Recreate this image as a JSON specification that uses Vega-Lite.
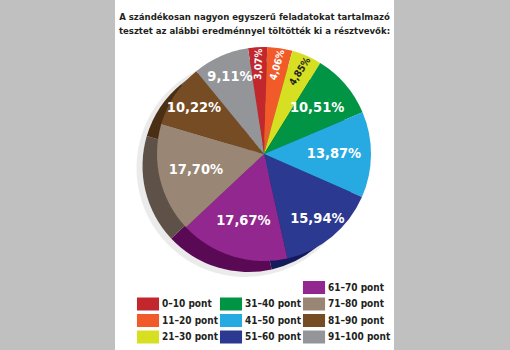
{
  "$schema": "https://vega.github.io/schema/vega-lite/v6.json",
  "autosize": {"type": "none"},
  "width": 279,
  "height": 350,
  "padding": {"left": 115, "right": 116, "top": 0, "bottom": 0},
  "background": "#c0c0c0",
  "view": {"fill": "#ffffff", "stroke": null},
  "config": {
    "view": {"fill": "#ffffff", "stroke": null},
    "font": "DejaVu Sans Condensed"
  },
  "title": {
    "text": ["A szándékosan nagyon egyszerű feladatokat tartalmazó", "tesztet az alábbi eredménnyel töltötték ki a résztvevők:"],
    "anchor": "middle",
    "frame": "group",
    "font": "DejaVu Sans Condensed",
    "fontSize": 9.5,
    "fontWeight": "bold",
    "color": "#231f20",
    "lineHeight": 13.5,
    "baseline": "top",
    "offset": 0,
    "dy": 35
  },
  "data": {
    "values": [
      {"cat": "0–10 pont", "value": 3.07, "label": "3,07%"},
      {"cat": "11–20 pont", "value": 4.06, "label": "4,06%"},
      {"cat": "21–30 pont", "value": 4.85, "label": "4,85%"},
      {"cat": "31–40 pont", "value": 10.51, "label": "10,51%"},
      {"cat": "41–50 pont", "value": 13.87, "label": "13,87%"},
      {"cat": "51–60 pont", "value": 15.94, "label": "15,94%"},
      {"cat": "61–70 pont", "value": 17.67, "label": "17,67%"},
      {"cat": "71–80 pont", "value": 17.70, "label": "17,70%"},
      {"cat": "81–90 pont", "value": 10.22, "label": "10,22%"},
      {"cat": "91–100 pont", "value": 9.11, "label": "9,11%"}
    ]
  },
  "encoding": {
    "theta": {"field": "value", "type": "quantitative", "stack": true, "scale": {"range": [-0.15, 6.1332]}},
    "order": {"field": "cat", "sort": "ascending"}
  },
  "layer": [
    {
      "mark": {"type": "arc", "radius": 109, "xOffset": -9, "yOffset": -7, "color": "#000000", "opacity": 0.08},
      "encoding": {}
    },
    {
      "mark": {"type": "arc", "radius": 106, "xOffset": -6, "yOffset": -9},
      "encoding": {
        "fill": {"field": "cat", "type": "nominal", "legend": null,
          "scale": {
            "domain": ["0–10 pont", "11–20 pont", "21–30 pont", "31–40 pont", "41–50 pont", "51–60 pont", "61–70 pont", "71–80 pont", "81–90 pont", "91–100 pont"],
            "range": ["#7a1020", "#a03a18", "#8a8f15", "#06602d", "#1a6f93", "#141a5c", "#5a0a55", "#5e5248", "#4a2f15", "#5f6063"]
          }
        }
      }
    },
    {
      "mark": {"type": "arc", "radius": 107, "xOffset": 9.5, "yOffset": -21},
      "encoding": {
        "color": {"field": "cat", "type": "nominal",
          "scale": {
            "domain": ["_a", "0–10 pont", "11–20 pont", "21–30 pont", "_b", "31–40 pont", "41–50 pont", "51–60 pont", "61–70 pont", "71–80 pont", "81–90 pont", "91–100 pont"],
            "range": ["#ffffff", "#c1272d", "#f15a29", "#d7df23", "#ffffff", "#009444", "#27aae1", "#2b3990", "#92278f", "#998675", "#754c24", "#939598"]
          },
          "legend": {
            "orient": "none",
            "direction": "vertical",
            "legendX": 26.5,
            "legendY": 281,
            "columns": 3,
            "columnPadding": 1,
            "rowPadding": 3.5,
            "title": null,
            "symbolType": "M-1.7,-1H1.7V1H-1.7Z",
            "symbolSize": 169,
            "symbolStrokeWidth": 0,
            "symbolOpacity": 1,
            "labelFont": "DejaVu Sans Condensed",
            "labelFontSize": 10,
            "labelFontWeight": "bold",
            "labelColor": "#231f20",
            "labelOffset": 7.5,
            "labelExpr": "datum.label == '_a' || datum.label == '_b' ? '' : datum.label"
          }
        }
      }
    },
    {
      "mark": {"type": "text", "radius": 70, "xOffset": 9.5, "yOffset": -21, "font": "DejaVu Sans Condensed", "fontSize": 14.5, "fontWeight": "bold", "color": "#ffffff"},
      "encoding": {
        "text": {"field": "label"},
        "opacity": {"condition": {"test": "indexof(['31–40 pont','41–50 pont','61–70 pont','71–80 pont'], datum.cat) >= 0", "value": 1}, "value": 0}
      }
    },
    {
      "mark": {"type": "text", "radius": 84, "xOffset": 9.5, "yOffset": -21, "font": "DejaVu Sans Condensed", "fontSize": 14.5, "fontWeight": "bold", "color": "#ffffff"},
      "encoding": {
        "text": {"field": "label"},
        "opacity": {"condition": {"test": "indexof(['51–60 pont','81–90 pont','91–100 pont'], datum.cat) >= 0", "value": 1}, "value": 0}
      }
    },
    {
      "mark": {"type": "text", "radius": 90, "xOffset": 9.5, "yOffset": -21, "font": "DejaVu Sans Condensed", "fontSize": 10, "fontWeight": "bold"},
      "encoding": {
        "text": {"field": "label"},
        "opacity": {"condition": {"test": "datum.value < 6", "value": 1}, "value": 0},
        "color": {"condition": {"test": "datum.cat == '21–30 pont'", "value": "#231f20"}, "value": "#ffffff"},
        "angle": {"condition": [{"test": "datum.cat == '0–10 pont'", "value": -88}, {"test": "datum.cat == '11–20 pont'", "value": -74}], "value": -58}
      }
    }
  ]
}
